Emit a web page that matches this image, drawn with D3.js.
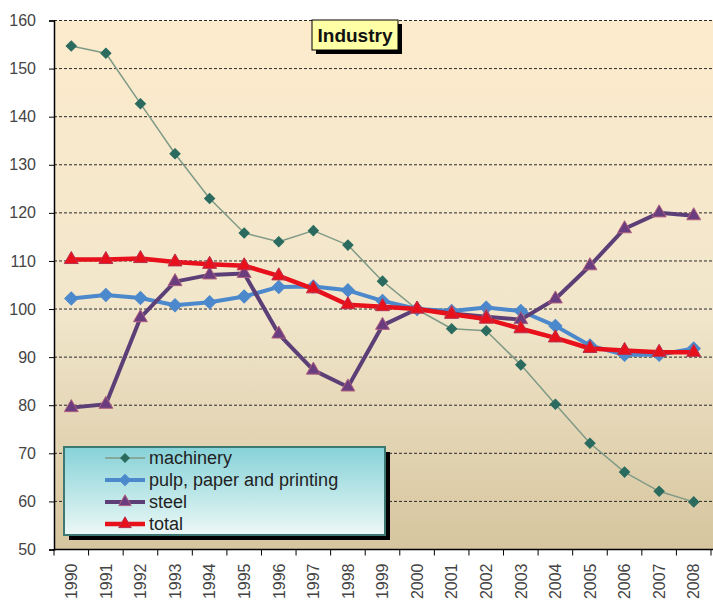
<!DOCTYPE html>
<html>
<head>
<meta charset="utf-8">
<script src="https://cdn.jsdelivr.net/npm/d3@7"></script>
<style>
  html, body { margin: 0; padding: 0; background: #fff; }
  svg { display: block; }
</style>
</head>
<body>
<svg id="chart" width="713" height="604"></svg>
<script>
// Industry indices, 2000 = 100
const years = ["1990","1991","1992","1993","1994","1995","1996","1997","1998","1999",
               "2000","2001","2002","2003","2004","2005","2006","2007","2008"];
const machinery = [154.7,153.2,142.7,132.3,123.0,115.8,114.0,116.3,113.3,105.8,
                   99.9,95.9,95.5,88.4,80.2,72.1,66.1,62.1,59.9];
const pulp = [102.2,102.9,102.3,100.8,101.4,102.6,104.6,104.7,103.9,101.7,
              100.0,99.6,100.3,99.6,96.5,92.4,90.5,90.5,91.8];
const steel = [79.5,80.2,98.2,105.7,107.1,107.4,94.8,87.3,83.8,96.6,
               100.0,99.1,98.4,97.8,102.1,109.0,116.7,120.0,119.4];
const total = [110.3,110.3,110.5,109.8,109.3,109.0,106.9,104.2,100.9,100.5,
               100.0,98.9,97.9,95.9,94.0,91.8,91.4,91.0,91.0];
const yTicks = [50,60,70,80,90,100,110,120,130,140,150,160];
const seriesNames = ["machinery","pulp, paper and printing","steel","total"];
const chartTitle = "Industry";

(function () {
const series = [
  { name: seriesNames[0], values: machinery, line: "#7f9a86", width: 1.5, marker: "diamond", fill: "#2b6b5f", stroke: "#2b6b5f", size: 52 },
  { name: seriesNames[1], values: pulp, line: "#4c88cc", width: 4, marker: "diamond", fill: "#4c88cc", stroke: "#4c88cc", size: 85 },
  { name: seriesNames[2], values: steel, line: "#5d3f78", width: 4, marker: "triangle", fill: "#6a3d7e", stroke: "#b0607e", size: 84 },
  { name: seriesNames[3], values: total, line: "#e8101a", width: 4.5, marker: "triangle", fill: "#e8101a", stroke: "#b8304e", size: 84 }
];

const svg = d3.select("#chart");
const font = "'Liberation Sans', Arial, sans-serif";
const mLeft = 54, mRight = 711, mTop = 20.5, mBottom = 549.5;

const x = d3.scaleBand().domain(years).range([mLeft, mRight]);
const y = d3.scaleLinear().domain([50, 160]).range([mBottom, mTop]);

const defs = svg.append("defs");
const bg = defs.append("linearGradient").attr("id", "plotbg")
  .attr("x1", 0).attr("y1", 0).attr("x2", 0).attr("y2", 1);
bg.append("stop").attr("offset", "0%").attr("stop-color", "#fdebcc");
bg.append("stop").attr("offset", "55%").attr("stop-color", "#f1e6cb");
bg.append("stop").attr("offset", "100%").attr("stop-color", "#d6c59e");

const lg = defs.append("linearGradient").attr("id", "legbg")
  .attr("x1", 0).attr("y1", 0).attr("x2", 0).attr("y2", 1);
lg.append("stop").attr("offset", "0%").attr("stop-color", "#86d2d8");
lg.append("stop").attr("offset", "100%").attr("stop-color", "#ecf8f6");

// plot area
svg.append("rect").attr("x", mLeft).attr("y", mTop)
  .attr("width", mRight - mLeft + 2).attr("height", mBottom - mTop)
  .attr("fill", "url(#plotbg)");

// dashed gridlines
svg.append("g").selectAll("line")
  .data(yTicks.filter(t => t > 50))
  .join("line")
  .attr("x1", mLeft).attr("x2", 713)
  .attr("y1", d => y(d)).attr("y2", d => y(d))
  .attr("stroke", "#2a2a2a").attr("stroke-width", 1)
  .attr("stroke-dasharray", "3,2");

// y axis
const yAxis = svg.append("g").attr("transform", `translate(${mLeft},0)`)
  .call(d3.axisLeft(y).tickValues(yTicks).tickSize(5).tickPadding(13).tickFormat(d3.format("d")));
yAxis.select(".domain").attr("stroke", "#000").attr("stroke-width", 1.5);
yAxis.selectAll(".tick line").attr("stroke", "#000");
yAxis.selectAll("text").attr("font-family", font).attr("font-size", 16).attr("fill", "#444");

// x axis with ticks between categories
const xAxis = svg.append("g").attr("transform", `translate(0,${mBottom})`);
xAxis.append("line").attr("x1", mLeft).attr("x2", mRight + 2)
  .attr("stroke", "#000").attr("stroke-width", 1.5);
const edges = years.map(d => x(d)).concat([x(years[years.length - 1]) + x.bandwidth()]);
xAxis.selectAll("line.tk")
  .data(edges)
  .join("line").attr("class", "tk")
  .attr("x1", d => d).attr("x2", d => d)
  .attr("y1", 0).attr("y2", 6).attr("stroke", "#000");
xAxis.selectAll("text")
  .data(years)
  .join("text")
  .attr("transform", d => `translate(${x(d) + x.bandwidth() / 2},14) rotate(-90)`)
  .attr("text-anchor", "end").attr("dy", "0.36em")
  .attr("font-family", font).attr("font-size", 16).attr("fill", "#444")
  .text(d => d);

// series lines and markers
const cx = (d, i) => x(years[i]) + x.bandwidth() / 2;
series.forEach(s => {
  const g = svg.append("g");
  g.append("path")
    .datum(s.values)
    .attr("fill", "none")
    .attr("stroke", s.line)
    .attr("stroke-width", s.width)
    .attr("stroke-linejoin", "round")
    .attr("d", d3.line().x(cx).y(d => y(d)));
  const sym = s.marker === "diamond"
    ? d3.symbol().type(d3.symbolSquare).size(s.size)
    : d3.symbol().type(d3.symbolTriangle).size(s.size);
  g.selectAll("path.m")
    .data(s.values)
    .join("path").attr("class", "m")
    .attr("d", sym)
    .attr("transform", (d, i) => `translate(${cx(d, i)},${y(d)})` + (s.marker === "diamond" ? " rotate(45)" : ""))
    .attr("fill", s.fill)
    .attr("stroke", s.stroke)
    .attr("stroke-width", 1);
});

// title box
const tb = svg.append("g");
tb.append("rect").attr("x", 316).attr("y", 24).attr("width", 86).attr("height", 30).attr("fill", "#000");
tb.append("rect").attr("x", 312).attr("y", 20).attr("width", 86).attr("height", 30)
  .attr("fill", "#ffffa6").attr("stroke", "#000").attr("stroke-width", 1);
tb.append("text").attr("x", 355).attr("y", 42).attr("text-anchor", "middle")
  .attr("font-family", font).attr("font-size", 19).attr("font-weight", "bold").attr("fill", "#111")
  .text(chartTitle);

// legend
const lgG = svg.append("g");
lgG.append("rect").attr("x", 69).attr("y", 452).attr("width", 321).attr("height", 88).attr("fill", "#000");
lgG.append("rect").attr("x", 64).attr("y", 447).attr("width", 321).attr("height", 88)
  .attr("fill", "url(#legbg)").attr("stroke", "#3d7872").attr("stroke-width", 2);
series.forEach((s, i) => {
  const ly = 458 + i * 22;
  lgG.append("line").attr("x1", 105).attr("x2", 145).attr("y1", ly).attr("y2", ly)
    .attr("stroke", s.line).attr("stroke-width", s.width);
  const sym = s.marker === "diamond"
    ? d3.symbol().type(d3.symbolSquare).size(s.size * 0.7)
    : d3.symbol().type(d3.symbolTriangle).size(s.size * 0.8);
  lgG.append("path").attr("d", sym)
    .attr("transform", `translate(125,${ly})` + (s.marker === "diamond" ? " rotate(45)" : ""))
    .attr("fill", s.fill).attr("stroke", s.stroke).attr("stroke-width", 1);
  lgG.append("text").attr("x", 149).attr("y", ly).attr("dy", "0.35em")
    .attr("font-family", font).attr("font-size", 18).attr("fill", "#222")
    .text(s.name);
});
})();
</script>
</body>
</html>
